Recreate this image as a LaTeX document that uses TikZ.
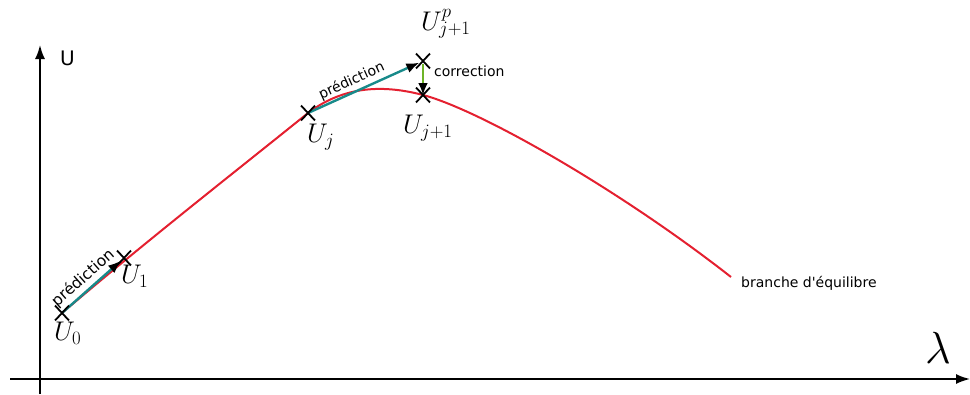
\RequirePackage{fix-cm}
\documentclass[tikz,border=0pt]{standalone}
\usepackage{fontspec}
\newfontfamily\dvs{DejaVu Sans}
\usetikzlibrary{arrows.meta,shapes.misc}
\definecolor{curvered}{RGB}{228,32,48}
\definecolor{tealc}{RGB}{24,138,138}
\definecolor{greenc}{RGB}{110,180,40}
\tikzset{
  axis/.style={line width=1.8pt,-{Latex[length=14pt,width=10pt]}},
  curve/.style={draw=curvered,line width=2pt},
  pred/.style={draw=tealc,line width=2.4pt,shorten >=4pt,-{Latex[black,length=13pt,width=10pt]}},
  corr/.style={draw=greenc,line width=2.4pt,shorten <=3pt,-{Latex[black,length=12pt,width=10pt]}},
  crossmark/.style={cross out,draw=black,line width=1.8pt,minimum width=12pt,minimum height=13pt,inner sep=0pt},
  mlab/.style={anchor=base west,inner sep=0pt,font=\fontsize{27}{30}\selectfont},
  txt/.style={inner sep=0pt,font=\dvs\fontsize{14}{16}\selectfont},
  predtxt/.style={txt,sloped,above=3pt}
}
\begin{document}
\begin{tikzpicture}[x=1pt,y=-1pt]
\useasboundingbox (0,0) rectangle (970,394);
% axes
\coordinate (ox) at (10,379);
\coordinate (xe) at (970,379);
\coordinate (oy) at (40,394);
\coordinate (ye) at (40,45);
\draw[axis] (ox) -- (xe);
\draw[axis] (oy) -- (ye);
\node[anchor=base west,inner sep=0pt,font=\dvs\fontsize{20}{22}\selectfont] (ulab) at (60,65) {U};
\node[anchor=base west,inner sep=0pt,font=\fontsize{45}{48}\selectfont] (lam) at (925,363) {$\lambda$};
% points
\coordinate (U0) at (62,313);
\coordinate (U1) at (124,258);
\coordinate (Uj) at (308,113);
\coordinate (Up) at (423,61);
\coordinate (Uj1) at (423,95);
\coordinate (Uend) at (731,277);
% curve
\draw[curve] (U0) .. controls (150,238) and (250,160) .. (Uj)
  .. controls (345,85) and (385,85) .. (Uj1)
  .. controls (480,110) and (620,190) .. (Uend);
% predictions
\draw[pred] (U0) -- node[predtxt,font=\dvs\fontsize{15.5}{17}\selectfont,pos=0.47] (p1) {prédiction} (U1);
\draw[pred] (Uj) -- node[predtxt,pos=0.42] (p2) {prédiction} (Up);
\draw[corr] (Up) -- (Uj1);
% crosses
\node[crossmark] (c0) at (U0) {};
\node[crossmark] (c1) at (U1) {};
\node[crossmark] (cj) at (Uj) {};
\node[crossmark] (cp) at (Up) {};
\node[crossmark] (cj1) at (Uj1) {};
% labels
\node[mlab] (l0) at (54,340) {$U_0$};
\node[mlab] (l1) at (121,283) {$U_1$};
\node[mlab] (lj) at (307,142) {$U_j$};
\node[mlab] (lj1) at (403,133) {$U_{j+1}$};
\node[mlab] (lp) at (421,30) {$U^p_{j+1}$};
\node[txt,anchor=base west] (corrlab) at (434,76) {correction};
\node[txt,anchor=base west] (branch) at (741,287) {branche d'équilibre};
\end{tikzpicture}
\end{document}
